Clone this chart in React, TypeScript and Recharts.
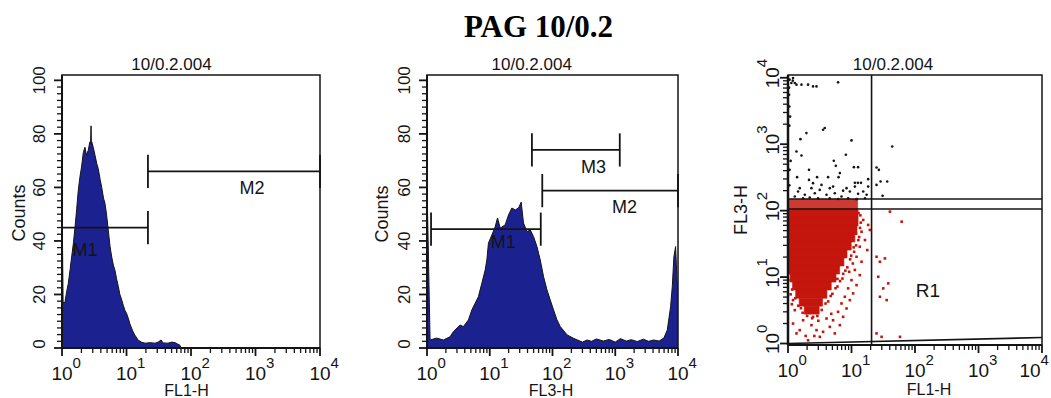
import React from 'react';
import {
  ComposedChart,
  Area,
  Scatter,
  XAxis,
  YAxis,
  ReferenceLine,
  ReferenceDot,
  ReferenceArea,
} from 'recharts';

// ---------- styling constants ----------
const FONT = '"Liberation Sans", Arial, Helvetica, sans-serif';
const SERIF = '"Liberation Serif", "Times New Roman", serif';
const INK = '#141414';
const NAVY = '#1b2290';
const RED = '#c5160e';

// ---------- axis ticks ----------
const decadeTicks = [1, 10, 100, 1000, 10000];
const decadeMinorSteps = [2, 3, 4, 5, 6, 7, 8, 9];
const logTicks: number[] = [];
decadeTicks.forEach((d, i) => {
  logTicks.push(d);
  if (i < decadeTicks.length - 1) decadeMinorSteps.forEach((m) => logTicks.push(d * m));
});
const countLabelTicks = [0, 20, 40, 60, 80, 100];
const countTicks: number[] = [];
for (let i = 0; i <= 40; i++) countTicks.push(i * 2.5);

// ---------- panel 1 : FL1-H histogram ----------
const hist1FL1 = [1, 1.04, 1.11, 1.18, 1.25, 1.33, 1.41, 1.5, 1.59, 1.69, 1.79, 1.9, 2.02, 2.14, 2.27, 2.4, 2.56, 2.7, 2.78, 2.82, 2.86, 2.89, 3.05, 3.25, 3.45, 3.65, 3.9, 4.13, 4.4, 4.64, 4.9, 5.22, 5.55, 5.9, 6.25, 6.63, 7.0, 7.46, 7.9, 8.43, 8.9, 9.48, 10, 10.7, 11.3, 12, 12.7, 13.5, 15.2, 17, 19.4, 23, 27.7, 31, 34.3, 37, 44, 50, 56.5, 62, 67.5, 70, 10000];
const hist1Counts = [58, 17, 17, 21, 24, 29, 34, 39, 45, 52, 59, 64, 68, 73, 75, 72, 74, 77, 77, 83, 76, 77, 75, 72, 69, 67, 63, 60, 56, 54, 50, 44, 38, 34, 31, 29, 26, 23, 20, 18, 16, 14, 13, 11, 9, 7.4, 6, 4.8, 2.9, 2.2, 1.8, 2, 1.8, 2.2, 3, 1.9, 1.8, 2.2, 2, 1.5, 1, 0, 0];
const hist1Markers = [
  { name: 'M1', from: 1, to: 21.5, level: 45 },
  { name: 'M2', from: 21.5, to: 10000, level: 66 },
];
const hist1MarkerLabels = [
  { name: 'M1', x: 2.27, y: 36.6 },
  { name: 'M2', x: 883, y: 59.8 },
];

// ---------- panel 2 : FL3-H histogram ----------
const hist2FL3 = [1, 1.12, 1.43, 1.82, 2.33, 2.63, 3.37, 3.8, 4.57, 5.18, 5.84, 6.6, 7.48, 8.45, 8.99, 9.53, 10.8, 12.2, 13.3, 14.7, 17.6, 19.9, 22.5, 25.5, 28.7, 31.7, 34.5, 39.2, 44.2, 49.9, 56.5, 63.8, 72.1, 81.7, 92.2, 104, 118, 133, 171, 217, 250, 300, 356, 420, 500, 648, 800, 1000, 1211, 1500, 1800, 2239, 2800, 3400, 4077, 5000, 5953, 6745, 7620, 8110, 8610, 9160, 9680, 10000];
const hist2Counts = [61, 3, 3.7, 3, 4.2, 6.1, 8.6, 8, 10.5, 14.2, 16.7, 19.2, 24.2, 29.1, 32.9, 39.2, 42.2, 45.3, 48.6, 44.8, 46, 49.7, 52.3, 51.6, 52.3, 54.5, 46.7, 43.5, 44.1, 41.6, 37.9, 32.9, 26.6, 21.7, 17.9, 14.2, 10.5, 8, 4.9, 3.6, 3, 2.2, 3, 2.5, 3.4, 2.6, 3.2, 2.2, 3.5, 2.6, 3.1, 2.4, 3.3, 2.5, 3, 2.6, 3.7, 6.7, 15.4, 22.9, 34.1, 37.9, 24.3, 24];
const hist2Markers = [
  { name: 'M1', from: 1.16, to: 65, level: 44.4 },
  { name: 'M2', from: 68.7, to: 10000, level: 58.8 },
  { name: 'M3', from: 47, to: 1180, level: 74 },
];
const hist2MarkerLabels = [
  { name: 'M1', x: 16.4, y: 39.6 },
  { name: 'M2', x: 1403, y: 53 },
  { name: 'M3', x: 449, y: 67.6 },
];
const markerTickHalf = 6.2;

// ---------- panel 3 : FL1-H vs FL3-H dot plot ----------
// dense core of the red population: [FL3 low, FL3 high, FL1 low, FL1 high]
const coreBands: [number, number, number, number][] = [
  [106, 148, 1, 12.5],
  [77.6, 106, 1, 12.7],
  [58.8, 77.6, 1, 12.7],
  [44.5, 58.8, 1, 12.2],
  [33.7, 44.5, 1, 11.3],
  [25.5, 33.7, 1, 9.9],
  [19.4, 25.5, 1, 8.5],
  [14.7, 19.4, 1, 7.6],
  [11.1, 14.7, 1.03, 6.5],
  [8.4, 11.1, 1.08, 5.7],
  [6.4, 8.4, 1.18, 4.8],
  [4.8, 6.4, 1.32, 4.1],
  [3.65, 4.8, 1.5, 3.5],
  [2.77, 3.65, 1.8, 3.1],
];
// scattered red events [FL1, FL3]
const redEvents: [number, number][] = [
  [15.3, 72.4], [18.3, 60.9], [14.4, 48.2], [19.5, 51.2], [16.3, 36.1], [13.5, 28.6], [17.7, 25.5], [12.0, 20.2],
  [14.4, 17.0], [11.3, 12.8], [13.5, 10.7], [10.0, 9.0], [12.0, 7.57], [8.85, 6.76], [10.6, 5.68], [7.85, 5.05],
  [9.42, 4.5], [6.96, 4.01], [8.35, 3.37], [6.15, 3.0], [7.38, 2.52], [5.13, 2.24], [6.55, 1.89], [4.55, 1.78],
  [3.57, 1.5], [5.46, 1.42], [2.81, 1.59], [2.34, 1.89], [3.17, 1.26], [1.73, 2.24], [1.53, 1.59], [2.07, 1.12],
  [1.2, 4.5], [1.28, 3.18], [1.2, 2.0], [1.36, 1.42], [2.48, 2.52], [4.04, 2.38],
  [24.8, 20.2], [28.0, 17.0], [33.6, 19.1], [26.4, 10.1], [37.9, 8.04], [31.6, 6.76], [28.0, 5.05], [35.8, 4.5],
  [61.7, 68.2], [40.3, 96.6], [29.8, 1.26], [58.0, 1.26], [24.8, 1.42],
  [11.8, 30], [10.5, 16], [9.2, 12], [7.2, 9.5], [6.0, 7.2], [5.0, 5.6], [4.3, 4.3], [2.2, 2.9], [1.6, 3.4],
  [1.1, 5.5], [1.15, 3.9], [13.2, 40], [14, 66], [12.9, 92], [3.0, 2.2], [4.8, 2.8], [2.6, 1.3], [1.9, 1.3],
  [13.8, 85], [13.6, 55], [12.8, 36], [11, 24], [9.5, 18.5], [8.6, 14], [7.4, 11.2], [6.6, 8.7], [5.6, 6.8],
  [4.7, 5.2], [3.9, 4.0], [3.4, 3.2], [2.9, 2.6], [2.4, 2.4], [2.0, 2.6], [1.7, 2.9], [1.45, 3.7], [1.3, 4.8],
  [1.16, 6.5], [1.1, 9], [10.8, 28], [11.8, 45], [9.9, 21], [8.0, 12.5], [6.0, 9.4],
];
// black events above the gate [FL1, FL3]
const blackEvents: [number, number][] = [
  [1.2, 9930], [1.06, 9360], [1.13, 8350], [1.19, 9040], [1.28, 8350], [1.36, 7870], [1.04, 7090], [1.04, 5560],
  [1.63, 7870], [2.07, 7870], [2.48, 7410], [2.81, 7410], [6.15, 8530], [1.95, 1470], [3.57, 1650], [3.79, 1750],
  [1.57, 1190], [10.0, 1140], [43.8, 923], [1.36, 776], [1.63, 676], [5.26, 562], [5.66, 472], [8.15, 692],
  [10.9, 451], [12.7, 451], [24.8, 445], [27.0, 411], [1.06, 411], [1.39, 319], [2.14, 411], [2.14, 290],
  [2.87, 319], [4.28, 319], [6.25, 319], [6.55, 367], [18.3, 298], [28.7, 274], [36.5, 274], [24.8, 244],
  [30.9, 167], [11.3, 262], [12.6, 262], [14.1, 262], [1.44, 194], [1.84, 173], [2.34, 218], [2.64, 183],
  [3.16, 205], [4.04, 173], [5.13, 230], [5.46, 183], [6.96, 163], [8.35, 218], [9.42, 194], [11.3, 230],
  [12.7, 179], [15.3, 194], [17.3, 173], [1.28, 163], [1.73, 154], [2.2, 157], [2.98, 154], [4.55, 154],
  [6.15, 150], [8.85, 154], [12.0, 149], [16.3, 154], [18.3, 230], [3.37, 244], [4.55, 218], [7.38, 200],
  [2.48, 259], [1.53, 218], [1.05, 3700], [1.08, 2600], [1.05, 1900], [1.1, 560], [1.05, 240],
];
const gateFL1 = 20.7;
const gateFL3Upper = 150;
const gateFL3Lower = 106;
const r1Baseline = [
  { x: 1, y: 1 },
  { x: 10000, y: 1.23 },
];
const r1Label = { name: 'R1', x: 160, y: 6.4 };

// ---------- tick renderers ----------
const isDecade = (v: number) => Math.abs(Math.log10(v) - Math.round(Math.log10(v))) < 1e-9;

function LogXTick(props: any) {
  const { x = 0, y = 0, payload, lastShift = 0 } = props;
  const v: number = payload?.value ?? 1;
  const major = isDecade(v);
  const exp = Math.round(Math.log10(v));
  const tx = v >= 10000 ? x - lastShift : x;
  return (
    <g>
      <line x1={x} x2={x} y1={y} y2={y + (major ? 8 : 5)} stroke={INK} strokeWidth={major ? 1.8 : 1.3} />
      {major && (
        <text x={tx} y={y + 32} textAnchor="middle" fontSize={19} fontFamily={FONT} fill={INK}>
          10
        </text>
      )}
      {major && (
        <text x={tx + 10.5} y={y + 20} textAnchor="start" fontSize={15} fontFamily={FONT} fill={INK}>
          {exp}
        </text>
      )}
    </g>
  );
}

function LogYTick(props: any) {
  const { x = 0, y = 0, payload } = props;
  const v: number = payload?.value ?? 1;
  const major = isDecade(v);
  const exp = Math.round(Math.log10(v));
  return (
    <g>
      <line x1={x - (major ? 8 : 5)} x2={x} y1={y} y2={y} stroke={INK} strokeWidth={major ? 1.8 : 1.3} />
      {major && (
        <g transform={`translate(${x - 9},${y}) rotate(-90)`}>
          <text x={0} y={0} textAnchor="middle" fontSize={19} fontFamily={FONT} fill={INK}>
            10
          </text>
          <text x={10.5} y={-12} textAnchor="start" fontSize={15} fontFamily={FONT} fill={INK}>
            {exp}
          </text>
        </g>
      )}
    </g>
  );
}

function CountTick(props: any) {
  const { x = 0, y = 0, payload } = props;
  const v: number = payload?.value ?? 0;
  const major = countLabelTicks.includes(v);
  return (
    <g>
      <line x1={x - (major ? 8 : 5)} x2={x} y1={y} y2={y} stroke={INK} strokeWidth={major ? 1.8 : 1.3} />
      {major && (
        <text
          transform={`translate(${x - 17},${y + (v === 0 ? -4 : 0)}) rotate(-90)`}
          textAnchor="middle"
          fontSize={17}
          fontFamily={FONT}
          fill={INK}
        >
          {v}
        </text>
      )}
    </g>
  );
}

// ---------- histogram panel ----------
type Marker = { name: string; from: number; to: number; level: number };
type MarkerLabel = { name: string; x: number; y: number };

function HistPanel(props: {
  left: number;
  width: number;
  marginLeft: number;
  marginRight: number;
  xs: number[];
  counts: number[];
  markers: Marker[];
  labels: MarkerLabel[];
}) {
  const { left, width, marginLeft, marginRight, xs, counts, markers, labels } = props;
  const data = xs.map((x, i) => ({ x, count: counts[i] }));
  const lineProps = { stroke: INK, strokeWidth: 1.8, ifOverflow: 'visible' as const };
  return (
    <div style={{ position: 'absolute', left, top: 0 }}>
      <ComposedChart
        width={width}
        height={398}
        data={data}
        margin={{ top: 75, right: marginRight, bottom: 0, left: marginLeft }}
      >
        <XAxis
          dataKey="x"
          type="number"
          scale="log"
          domain={[1, 10000]}
          allowDataOverflow
          ticks={logTicks}
          interval={0}
          tickSize={0}
          tickMargin={0}
          tickLine={false}
          tick={<LogXTick />}
          height={50}
          axisLine={{ stroke: INK, strokeWidth: 2 }}
        />
        <YAxis
          type="number"
          domain={[0, 102]}
          allowDataOverflow
          ticks={countTicks}
          interval={0}
          tickSize={0}
          tickMargin={0}
          tickLine={false}
          tick={<CountTick />}
          width={40}
          axisLine={{ stroke: INK, strokeWidth: 2 }}
        />
        <Area
          type="linear"
          dataKey="count"
          stroke={INK}
          strokeWidth={1}
          fill={NAVY}
          fillOpacity={1}
          isAnimationActive={false}
          dot={false}
          activeDot={false}
        />
        <ReferenceArea
          x1={1}
          x2={10000}
          y1={0}
          y2={102}
          fill="none"
          stroke={INK}
          strokeWidth={1.5}
          ifOverflow="visible"
        />
        {markers.map((m) => (
          <ReferenceLine
            key={m.name + 'h'}
            segment={[
              { x: m.from, y: m.level },
              { x: m.to, y: m.level },
            ]}
            {...lineProps}
          />
        ))}
        {markers.map((m) => (
          <ReferenceLine
            key={m.name + 'a'}
            segment={[
              { x: m.from, y: m.level - markerTickHalf },
              { x: m.from, y: m.level + markerTickHalf },
            ]}
            {...lineProps}
          />
        ))}
        {markers.map((m) => (
          <ReferenceLine
            key={m.name + 'b'}
            segment={[
              { x: m.to, y: m.level - markerTickHalf },
              { x: m.to, y: m.level + markerTickHalf },
            ]}
            {...lineProps}
          />
        ))}
        {labels.map((l) => (
          <ReferenceDot
            key={l.name + 'l'}
            x={l.x}
            y={l.y}
            r={0}
            fill="none"
            stroke="none"
            ifOverflow="visible"
            label={{ value: l.name, position: 'center', fontSize: 18, fill: INK, fontFamily: FONT }}
          />
        ))}
      </ComposedChart>
    </div>
  );
}

// ---------- dot plot panel ----------
function DotPanel() {
  const reds = redEvents.map(([x, y]) => ({ x, y }));
  const blacks = blackEvents.map(([x, y]) => ({ x, y }));
  const gateProps = { stroke: INK, strokeWidth: 1.6, ifOverflow: 'visible' as const };
  return (
    <div style={{ position: 'absolute', left: 720, top: 0 }}>
      <ComposedChart width={331} height={398} margin={{ top: 75, right: 9, bottom: 0, left: 28 }}>
        <XAxis
          dataKey="x"
          type="number"
          scale="log"
          domain={[1, 10000]}
          allowDataOverflow
          ticks={logTicks}
          interval={0}
          tickSize={0}
          tickMargin={0}
          tickLine={false}
          tick={<LogXTick lastShift={12} />}
          height={53}
          axisLine={{ stroke: INK, strokeWidth: 2 }}
        />
        <YAxis
          dataKey="y"
          type="number"
          scale="log"
          domain={[0.95, 11000]}
          allowDataOverflow
          ticks={logTicks}
          interval={0}
          tickSize={0}
          tickMargin={0}
          tickLine={false}
          tick={<LogYTick />}
          width={40}
          axisLine={{ stroke: INK, strokeWidth: 2.5 }}
        />
        {coreBands.map(([lo, hi, l, r], i) => (
          <ReferenceArea
            key={'core' + i}
            x1={l}
            x2={r}
            y1={lo}
            y2={hi}
            fill={RED}
            fillOpacity={i === 0 ? 0.85 : 1}
            stroke={RED}
            strokeWidth={0.6}
            strokeOpacity={i === 0 ? 0.85 : 1}
            ifOverflow="visible"
          />
        ))}
        <Scatter
          data={reds}
          dataKey="y"
          isAnimationActive={false}
          shape={(p: any) => <rect x={p.cx - 1.3} y={p.cy - 1.3} width={2.6} height={2.6} fill={RED} />}
        />
        <Scatter
          data={blacks}
          dataKey="y"
          isAnimationActive={false}
          shape={(p: any) => <circle cx={p.cx} cy={p.cy} r={1.3} fill={INK} />}
        />
        <ReferenceArea
          x1={1}
          x2={10000}
          y1={0.95}
          y2={11000}
          fill="none"
          stroke={INK}
          strokeWidth={1.5}
          ifOverflow="visible"
        />
        <ReferenceLine x={gateFL1} {...gateProps} />
        <ReferenceLine y={gateFL3Upper} {...gateProps} />
        <ReferenceLine y={gateFL3Lower} {...gateProps} />
        <ReferenceLine segment={r1Baseline} {...gateProps} />
        <ReferenceDot
          x={r1Label.x}
          y={r1Label.y}
          r={0}
          fill="none"
          stroke="none"
          ifOverflow="visible"
          label={{ value: r1Label.name, position: 'center', fontSize: 19, fill: INK, fontFamily: FONT }}
        />
      </ComposedChart>
    </div>
  );
}

// ---------- titles ----------
const mainTitle = 'PAG 10/0.2';
const panelTitle = '10/0.2.004';

function Titles() {
  const t = { fontFamily: FONT, fill: INK };
  return (
    <svg
      width={1051}
      height={398}
      style={{ position: 'absolute', left: 0, top: 0, pointerEvents: 'none' }}
    >
      <text x={538.5} y={37} textAnchor="middle" fontFamily={SERIF} fontWeight="bold" fontSize={31} fill="#000">
        {mainTitle}
      </text>
      <text x={171.5} y={70} textAnchor="middle" fontSize={17} {...t}>{panelTitle}</text>
      <text x={531.7} y={70} textAnchor="middle" fontSize={17} {...t}>{panelTitle}</text>
      <text x={893} y={70} textAnchor="middle" fontSize={17} {...t}>{panelTitle}</text>
      <text x={186.5} y={396} textAnchor="middle" fontSize={16} {...t}>FL1-H</text>
      <text x={551} y={396} textAnchor="middle" fontSize={16} {...t}>FL3-H</text>
      <text x={929} y={395} textAnchor="middle" fontSize={16} {...t}>FL1-H</text>
      <text transform="translate(25,213) rotate(-90)" textAnchor="middle" fontSize={18} {...t}>Counts</text>
      <text transform="translate(388,214) rotate(-90)" textAnchor="middle" fontSize={18} {...t}>Counts</text>
      <text transform="translate(747,210) rotate(-90)" textAnchor="middle" fontSize={18} {...t}>FL3-H</text>
    </svg>
  );
}

export default function App() {
  return (
    <div
      style={{
        position: 'absolute',
        left: 0,
        top: 0,
        width: 1051,
        height: 398,
        background: '#fff',
        overflow: 'hidden',
      }}
    >
      <HistPanel
        left={0}
        width={340}
        marginLeft={22}
        marginRight={20}
        xs={hist1FL1}
        counts={hist1Counts}
        markers={hist1Markers}
        labels={hist1MarkerLabels}
      />
      <HistPanel
        left={360}
        width={340}
        marginLeft={27}
        marginRight={22}
        xs={hist2FL3}
        counts={hist2Counts}
        markers={hist2Markers}
        labels={hist2MarkerLabels}
      />
      <DotPanel />
      <Titles />
    </div>
  );
}
